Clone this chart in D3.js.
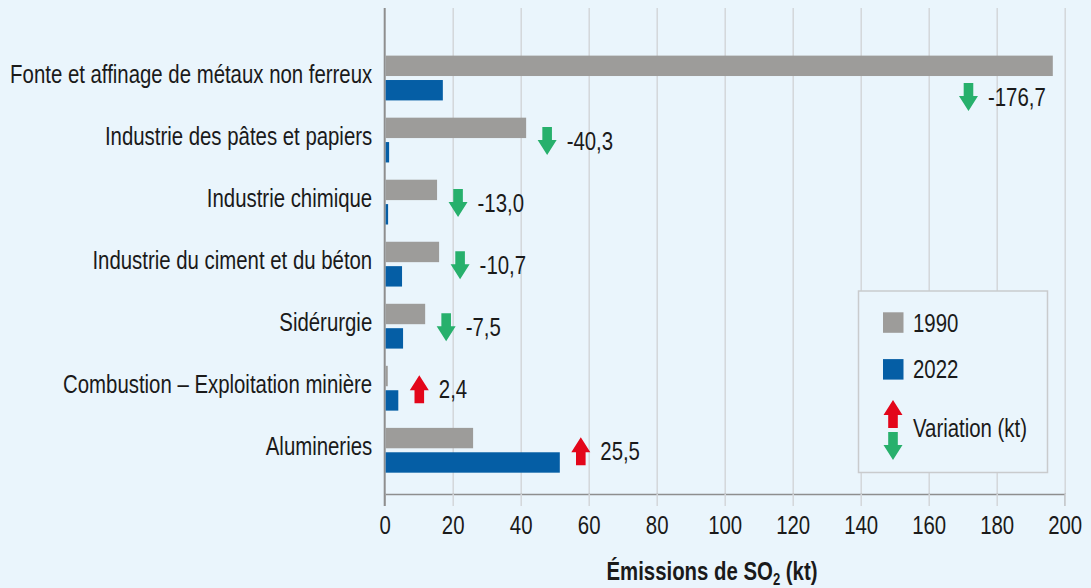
<!DOCTYPE html>
<html>
<head>
<meta charset="utf-8">
<script src="https://cdn.jsdelivr.net/npm/d3@7"></script>
<style>
  html, body { margin: 0; padding: 0; background: #eaf5fc; }
  svg { display: block; }
  text { font-family: "Liberation Sans", Arial, sans-serif; fill: #1a1a1a; }
</style>
</head>
<body>
<div id="chart"></div>
<script>
// ── Data ──
const categories = [
  "Fonte et affinage de métaux non ferreux",
  "Industrie des pâtes et papiers",
  "Industrie chimique",
  "Industrie du ciment et du béton",
  "Sidérurgie",
  "Combustion – Exploitation minière",
  "Alumineries",
];
const values1990 = [196.5, 41.6, 15.4, 16.0, 11.9, 0.9, 26.0];
const values2022 = [17.1, 1.3, 1.0, 5.1, 5.4, 4.0, 51.5];
const variation = [-176.7, -40.3, -13.0, -10.7, -7.5, 2.4, 25.5];
const xTicks = [0, 20, 40, 60, 80, 100, 120, 140, 160, 180, 200];
const seriesNames = ["1990", "2022"];

const C = {
  bg: "#eaf5fc",
  gray: "#9d9c9a",
  blue: "#055ea5",
  green: "#27b06c",
  red: "#e3061a",
  grid: "#d3d6da",
  axis: "#8e8e8e",
};

const W = 1091,
  H = 588;
const FS = "25px";
const K = 0.815; // horizontal squeeze, condensed look

const fmt = d3.formatLocale({ decimal: ",", thousands: " ", grouping: [3], currency: ["", ""], minus: "-" }).format(".1f");

// no narrow font installed: squeeze each text horizontally
function narrow(sel, k = K) {
  sel.each(function () {
    const L = this.getComputedTextLength();
    this.setAttribute("textLength", L * k);
    this.setAttribute("lengthAdjust", "spacingAndGlyphs");
  });
}

const svg = d3
  .select("#chart")
  .append("svg")
  .attr("width", W)
  .attr("height", H);

svg.append("rect").attr("width", W).attr("height", H).attr("fill", C.bg);

// ── Scales ──
const x = d3.scaleLinear().domain([0, 200]).range([384.7, 1064.7]);
const y = d3.scaleBand().domain(categories).range([47, 481.3]);

const axisY = 494,
  plotTop = 8;

// ── Gridlines ──
svg
  .append("g")
  .attr("transform", `translate(0,${axisY})`)
  .call(d3.axisBottom(x).tickValues(xTicks.slice(1)).tickSize(-(axisY - plotTop)).tickFormat(""))
  .call((g) => g.select(".domain").remove())
  .selectAll("line")
  .attr("stroke", C.grid)
  .attr("stroke-width", 1.5);

// ── X axis ──
const xAxisG = svg
  .append("g")
  .attr("transform", `translate(0,${axisY})`)
  .call(d3.axisBottom(x).tickValues(xTicks).tickSize(12).tickPadding(10).tickFormat(d3.format("d")));

xAxisG.select(".domain").attr("stroke", C.axis).attr("stroke-width", 1.5);
xAxisG.selectAll(".tick line").attr("stroke", C.grid).attr("stroke-width", 1.5);
xAxisG.selectAll(".tick text").style("font-size", FS).attr("fill", "#1a1a1a");

// ── Y axis line ──
svg
  .append("line")
  .attr("x1", x(0))
  .attr("x2", x(0))
  .attr("y1", plotTop)
  .attr("y2", axisY + 12)
  .attr("stroke", C.axis)
  .attr("stroke-width", 2);

const yAxisG = svg
  .append("g")
  .attr("transform", `translate(${x(0)},0)`)
  .call(d3.axisLeft(y).tickSize(0).tickPadding(12.5));
yAxisG.select(".domain").remove();
yAxisG
  .selectAll(".tick text")
  .style("font-size", FS)
  .attr("dy", "0.2em")
  .attr("fill", "#1a1a1a");
svg.selectAll(".tick text").attr("font-family", null);

// ── Bars ──
const rows = categories.map((c, i) => ({
  cat: c,
  v1990: values1990[i],
  v2022: values2022[i],
  change: variation[i],
}));

const barH = 20.4,
  gap = 4;

const g = svg.append("g");

g.selectAll(".bar1990")
  .data(rows)
  .enter()
  .append("rect")
  .attr("class", "bar1990")
  .attr("x", x(0) + 1)
  .attr("y", (d) => y(d.cat) + y.bandwidth() / 2 - gap / 2 - barH)
  .attr("width", (d) => x(d.v1990) - x(0) - 1)
  .attr("height", barH)
  .attr("fill", C.gray);

g.selectAll(".bar2022")
  .data(rows)
  .enter()
  .append("rect")
  .attr("class", "bar2022")
  .attr("x", x(0) + 1)
  .attr("y", (d) => y(d.cat) + y.bandwidth() / 2 + gap / 2)
  .attr("width", (d) => x(d.v2022) - x(0) - 1)
  .attr("height", barH)
  .attr("fill", C.blue);

// ── Arrow shape ──
function arrowPath(cx, cy, up) {
  const hh = 14,
    shaftW = 9.6,
    headW = 19,
    headL = 15;
  const s = up ? -1 : 1;
  const tip = cy + s * hh;
  const base = cy - s * hh;
  const neck = tip - s * headL;
  return (
    `M${cx - shaftW / 2},${base}L${cx + shaftW / 2},${base}` +
    `L${cx + shaftW / 2},${neck}L${cx + headW / 2},${neck}` +
    `L${cx},${tip}L${cx - headW / 2},${neck}` +
    `L${cx - shaftW / 2},${neck}Z`
  );
}

function arrowPos(d) {
  const vmax = Math.max(d.v1990, d.v2022);
  const cy = y(d.cat) + y.bandwidth() / 2;
  if (vmax + 6 > 190) return { ax: x(vmax - 24.8), ay: cy + 19 };
  return { ax: x(vmax) + 21, ay: cy + 1 };
}

const varG = g.selectAll(".var").data(rows).enter().append("g").attr("class", "var");

varG
  .append("path")
  .attr("d", (d) => {
    const p = arrowPos(d);
    return arrowPath(p.ax, p.ay, d.change > 0);
  })
  .attr("fill", (d) => (d.change > 0 ? C.red : C.green));

varG
  .append("text")
  .attr("x", (d) => arrowPos(d).ax + 19.5)
  .attr("y", (d) => arrowPos(d).ay)
  .attr("dy", "0.36em")
  .style("font-size", FS)
  .text((d) => fmt(d.change));

// ── Legend ──
const leg = svg.append("g").attr("transform", "translate(858.5,291)");
leg
  .append("rect")
  .attr("width", 189)
  .attr("height", 181.5)
  .attr("fill", C.bg)
  .attr("stroke", "#c9cbcd")
  .attr("stroke-width", 1.5);

seriesNames.forEach((s, i) => {
  const ly = 21.3 + i * 46.8;
  leg
    .append("rect")
    .attr("x", 24.5)
    .attr("y", ly)
    .attr("width", 20.5)
    .attr("height", 20.5)
    .attr("fill", i === 0 ? C.gray : C.blue);
  leg
    .append("text")
    .attr("x", 54.5)
    .attr("y", ly + 10.25)
    .attr("dy", "0.36em")
    .style("font-size", FS)
    .text(s);
});

leg.append("path").attr("d", arrowPath(34.5, 123, true)).attr("fill", C.red);
leg.append("path").attr("d", arrowPath(34.5, 155, false)).attr("fill", C.green);
leg
  .append("text")
  .attr("x", 54.5)
  .attr("y", 137)
  .attr("dy", "0.36em")
  .style("font-size", FS)
  .text("Variation (kt)");

narrow(svg.selectAll("text"));

// ── Axis title (squeezed with a transform, subscript kept intact) ──
const title = svg
  .append("text")
  .attr("transform", `translate(712,580) scale(${K},1)`)
  .attr("text-anchor", "middle")
  .style("font-size", "25px")
  .style("font-weight", "bold");
title.append("tspan").text("Émissions de SO");
title.append("tspan").attr("dy", 5).style("font-size", "16px").text("2");
title.append("tspan").attr("dy", -5).text(" (kt)");
</script>
</body>
</html>
